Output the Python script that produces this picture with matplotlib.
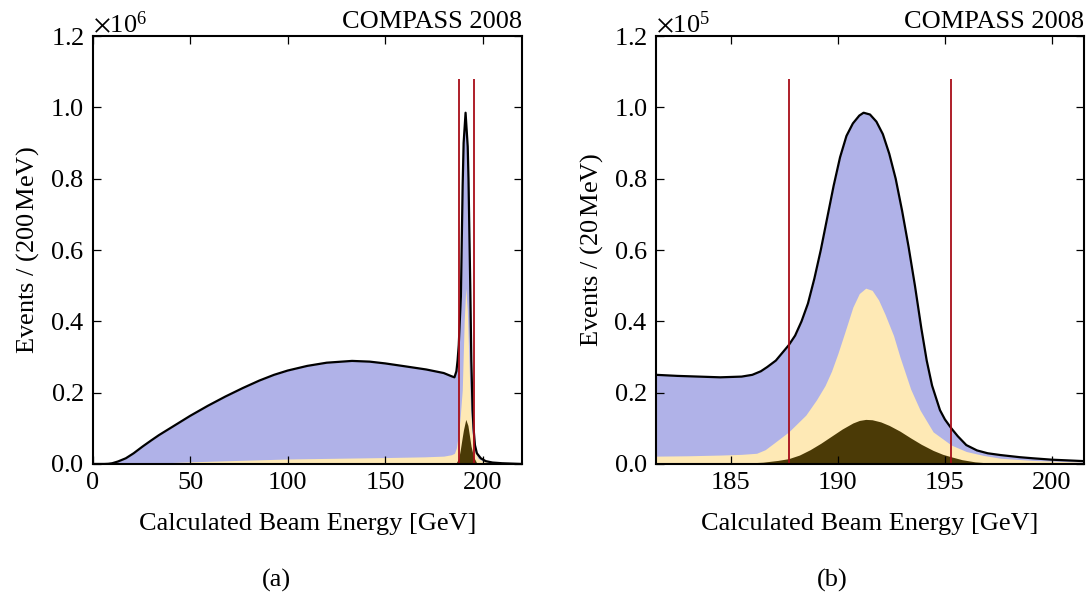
import matplotlib
matplotlib.use("Agg")
import matplotlib.pyplot as plt
from matplotlib.ticker import ScalarFormatter, MultipleLocator

plt.rcParams["font.family"] = ["Liberation Serif", "DejaVu Serif"]
plt.rcParams["mathtext.fontset"] = "stix"
plt.rcParams["font.size"] = 19

# --- full range, 200 MeV bins (events) ---
full_e = [0, 6, 8, 10, 13, 17, 21, 25.6, 30, 34, 42, 50, 59, 68, 77, 85.5, 93, 100,
          110, 120, 133, 142, 150, 160, 171, 180, 184, 185.5, 186.5, 187.1, 187.7,
          188.8, 189.7, 190.2, 191.2, 192.3, 192.7, 193.6, 194.15, 194.8, 195.3, 196,
          197, 199, 201.5, 205, 210, 220]
full_total = [0, 0, 0.0005e6, 0.002e6, 0.007e6, 0.016e6, 0.030e6, 0.049e6, 0.066e6,
              0.081e6, 0.108e6, 0.135e6, 0.163e6, 0.189e6, 0.213e6, 0.234e6, 0.250e6,
              0.262e6, 0.275e6, 0.284e6, 0.289e6, 0.287e6, 0.282e6, 0.274e6, 0.265e6,
              0.255e6, 0.246e6, 0.243e6, 0.26e6, 0.29e6, 0.333e6, 0.47e6, 0.78e6,
              0.90e6, 0.985e6, 0.89e6, 0.80e6, 0.50e6, 0.29e6, 0.151e6, 0.10e6,
              0.053e6, 0.030e6, 0.016e6, 0.008e6, 0.004e6, 0.002e6, 0]

full_e_sel = [0, 20, 35, 50, 75, 100, 125, 150, 170, 180, 184, 185.5, 186.5, 187.7,
              188.5, 189.5, 190.5, 191.3, 192.1, 192.9, 193.8, 194.5, 195.3, 196,
              197.6, 200, 205, 220]
full_sel = [0, 0.001e6, 0.003e6, 0.006e6, 0.010e6, 0.014e6, 0.016e6, 0.018e6, 0.020e6,
            0.022e6, 0.026e6, 0.030e6, 0.045e6, 0.09e6, 0.137e6, 0.207e6, 0.40e6,
            0.493e6, 0.43e6, 0.29e6, 0.151e6, 0.09e6, 0.053e6, 0.035e6, 0.016e6,
            0.008e6, 0.003e6, 0]

full_e_core = [185, 186.5, 187.7, 188.5, 189.5, 190.1, 191.3, 192.4, 192.9, 194,
               195.3, 196.8, 198]
full_core = [0, 0.004e6, 0.016e6, 0.04e6, 0.075e6, 0.095e6, 0.125e6, 0.108e6,
             0.09e6, 0.05e6, 0.02e6, 0.004e6, 0]

# --- peak region, 20 MeV bins (events) ---
zoom_e = [181.5, 182.5, 183.5, 184.5, 185.5, 186.0, 186.4, 186.7, 187.1, 187.7, 188.0,
          188.3, 188.6, 188.9, 189.2, 189.5, 189.8, 190.1, 190.4, 190.7, 191.0, 191.2,
          191.5, 191.8, 192.1, 192.4, 192.7, 193.0, 193.3, 193.6, 193.9, 194.15, 194.4,
          194.77, 195.0, 195.3, 195.6, 196.0, 196.5, 197.0, 197.6, 198.5, 199.1, 200.0,
          201.5]
zoom_total = [0.250e5, 0.247e5, 0.245e5, 0.243e5, 0.245e5, 0.250e5, 0.260e5, 0.272e5,
              0.290e5, 0.333e5, 0.36e5, 0.40e5, 0.45e5, 0.52e5, 0.60e5, 0.69e5, 0.78e5,
              0.86e5, 0.92e5, 0.955e5, 0.977e5, 0.985e5, 0.98e5, 0.96e5, 0.925e5,
              0.87e5, 0.80e5, 0.71e5, 0.61e5, 0.50e5, 0.38e5, 0.29e5, 0.22e5, 0.151e5,
              0.125e5, 0.10e5, 0.078e5, 0.053e5, 0.038e5, 0.030e5, 0.025e5, 0.019e5,
              0.016e5, 0.012e5, 0.008e5]

zoom_e_sel = [181.5, 183, 184.5, 185.5, 186.2, 186.6, 187.0, 187.7, 188.5, 189.0, 189.4,
              189.7, 190.0, 190.3, 190.7, 191.0, 191.3, 191.6, 191.9, 192.2, 192.6,
              192.9, 193.4, 193.84, 194.45, 195.3, 196.0, 196.8, 197.6, 199.1, 201.5]
zoom_sel = [0.022e5, 0.023e5, 0.025e5, 0.027e5, 0.030e5, 0.040e5, 0.058e5, 0.090e5,
            0.137e5, 0.18e5, 0.22e5, 0.26e5, 0.31e5, 0.365e5, 0.44e5, 0.478e5, 0.493e5,
            0.487e5, 0.46e5, 0.42e5, 0.36e5, 0.30e5, 0.21e5, 0.151e5, 0.09e5, 0.053e5,
            0.035e5, 0.024e5, 0.016e5, 0.010e5, 0.005e5]

zoom_e_core = [181.5, 184.5, 185.5, 186.5, 187.2, 187.7, 188.2, 188.7, 189.2, 189.7,
               190.2, 190.7, 191.0, 191.3, 191.6, 192.0, 192.4, 192.9, 193.4, 193.9,
               194.45, 194.9, 195.3, 195.8, 196.4, 197.2, 198.0, 201.5]
zoom_core = [0, 0, 0.002e5, 0.005e5, 0.010e5, 0.015e5, 0.025e5, 0.040e5, 0.058e5,
             0.078e5, 0.098e5, 0.115e5, 0.122e5, 0.125e5, 0.124e5, 0.118e5, 0.108e5,
             0.092e5, 0.073e5, 0.055e5, 0.038e5, 0.027e5, 0.020e5, 0.012e5, 0.006e5,
             0.002e5, 0, 0]

cut_lo, cut_hi = 187.7, 195.3

blue = "#b0b2e8"
yellow = "#fee9b5"
brown = "#4b3a06"
red = "#a80d18"

fig = plt.figure(figsize=(10.89, 6.01), dpi=100)
ax_a = fig.add_axes([0.0851, 0.228, 0.394, 0.712])
ax_b = fig.add_axes([0.6024, 0.228, 0.393, 0.712])


def draw(ax, e, tot, e_sel, sel, e_core, core, scale, xlim, xstep, ylabel):
    ax.fill_between(e, 0, tot, color=blue, lw=0)
    ax.fill_between(e_sel, 0, sel, color=yellow, lw=0)
    ax.fill_between(e_core, 0, core, color=brown, lw=0)
    ax.plot(e, tot, color="black", lw=1.6, solid_joinstyle="round")
    ax.vlines([cut_lo, cut_hi], 0, 1.08 * scale, color=red, lw=1.3)

    ax.set_xlim(*xlim)
    ax.set_ylim(0, 1.2 * scale)
    ax.xaxis.set_major_locator(MultipleLocator(xstep))
    ax.yaxis.set_major_locator(MultipleLocator(0.2 * scale))
    fmt = ScalarFormatter(useMathText=True)
    fmt.set_powerlimits((0, 0))
    ax.yaxis.set_major_formatter(fmt)
    ax.tick_params(direction="in", top=True, right=True, length=6, width=0.9, pad=6)
    for s in ax.spines.values():
        s.set_linewidth(1.5)

    ax.set_xlabel("Calculated Beam Energy [GeV]")
    ax.set_ylabel(ylabel)
    ax.xaxis.set_label_coords(0.5, -0.114)
    ax.yaxis.set_label_coords(-0.12, 0.5)
    ax.text(1.0, 1.006, "COMPASS 2008", transform=ax.transAxes, ha="right", va="bottom")


draw(ax_a, full_e, full_total, full_e_sel, full_sel, full_e_core, full_core,
     1e6, (0, 220), 50, r"Events / (200$\,$MeV)")
draw(ax_b, zoom_e, zoom_total, zoom_e_sel, zoom_sel, zoom_e_core, zoom_core,
     1e5, (181.5, 201.5), 5, r"Events / (20$\,$MeV)")

fig.text(0.2535, 0.035, "(a)", ha="center", va="center")
fig.text(0.764, 0.035, "(b)", ha="center", va="center")

fig.savefig("out.png", dpi=100)
